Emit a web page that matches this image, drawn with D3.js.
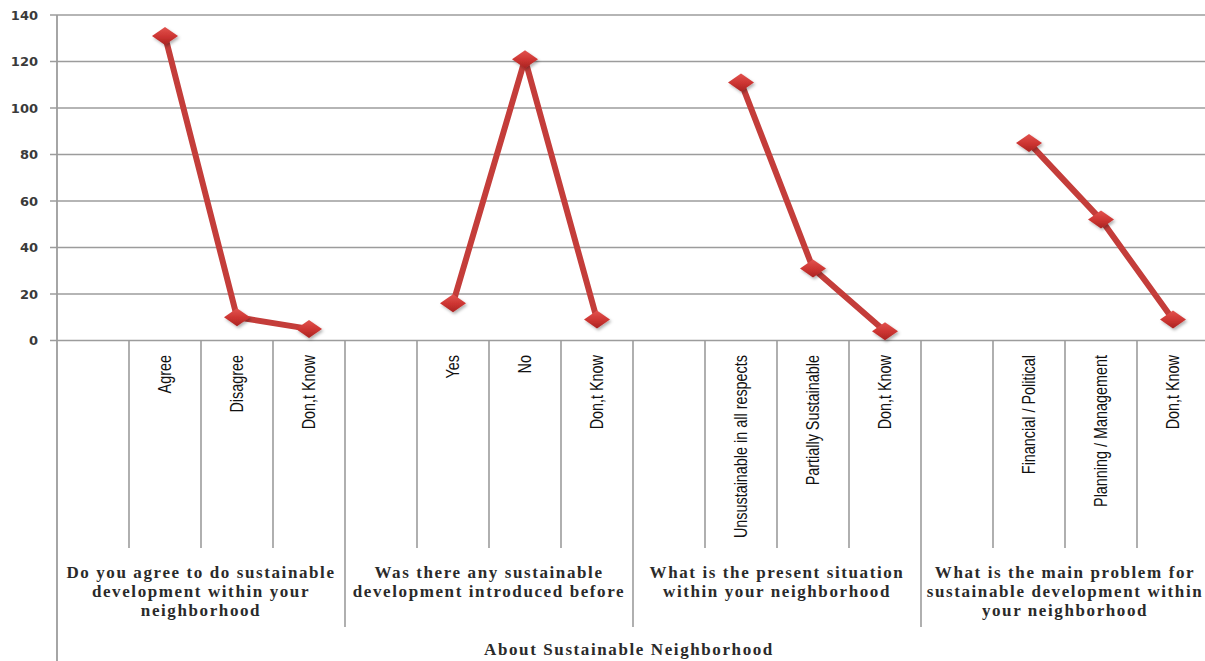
<!DOCTYPE html>
<html>
<head>
<meta charset="utf-8">
<script src="https://cdn.jsdelivr.net/npm/d3@7"></script>
<style>
  html, body { margin: 0; padding: 0; background: #fff; }
  svg { display: block; }
</style>
</head>
<body>
<svg id="chart" width="1205" height="661"></svg>
<script>
// Survey answers, one slot per answer; an empty slot opens each question group
const categories = ["", "Agree", "Disagree", "Don,t Know",
                    "", "Yes", "No", "Don,t Know",
                    "", "Unsustainable in all respects", "Partially Sustainable", "Don,t Know",
                    "", "Financial / Political", "Planning / Management", "Don,t Know"];
const values = [null, 131, 10, 5,
                null, 16, 121, 9,
                null, 111, 31, 4,
                null, 85, 52, 9];
const groupLabels = [
  ["Do you agree to do sustainable", "development within your", "neighborhood"],
  ["Was there any sustainable", "development introduced before"],
  ["What is the present situation", "within your neighborhood"],
  ["What is the main problem for", "sustainable development within", "your neighborhood"]
];
const yTicks = [0, 20, 40, 60, 80, 100, 120, 140];
const axisTitle = "About Sustainable Neighborhood";

(function draw() {
  const svg = d3.select("#chart");
  const plotLeft = 57, plotRight = 1209, plotTop = 15, plotBottom = 340.5;
  const slotsPerGroup = 4;

  const x = d3.scaleBand().domain(d3.range(categories.length)).range([plotLeft, plotRight]).padding(0);
  const y = d3.scaleLinear().domain([0, 140]).range([plotBottom, plotTop]);

  // gradient + shadow for the diamond markers
  const defs = svg.append("defs");
  const grad = defs.append("linearGradient").attr("id", "mk").attr("x1", 0).attr("y1", 0).attr("x2", 0).attr("y2", 1);
  grad.append("stop").attr("offset", "0%").attr("stop-color", "#e2534f");
  grad.append("stop").attr("offset", "55%").attr("stop-color", "#cc3431");
  grad.append("stop").attr("offset", "100%").attr("stop-color", "#a92422");
  const sh = defs.append("filter").attr("id", "sh").attr("x", "-50%").attr("y", "-50%").attr("width", "200%").attr("height", "200%");
  sh.append("feDropShadow").attr("dx", 1.5).attr("dy", 2).attr("stdDeviation", 1.5).attr("flood-color", "#000").attr("flood-opacity", 0.3);

  // horizontal gridlines
  svg.append("g").selectAll("line").data(yTicks).join("line")
    .attr("x1", plotLeft - 7).attr("x2", 1205)
    .attr("y1", d => y(d)).attr("y2", d => y(d))
    .attr("stroke", "#9c9c9c").attr("stroke-width", 1.6);

  // y axis through d3.axisLeft
  const yAxis = svg.append("g").attr("transform", `translate(${plotLeft},0)`)
    .call(d3.axisLeft(y).tickValues(yTicks).tickSize(0).tickPadding(19));
  yAxis.select(".domain").remove();
  yAxis.selectAll("text")
    .attr("font-family", "DejaVu Sans, Verdana, sans-serif")
    .attr("font-size", 13).attr("fill", "#3a3a3a").attr("font-weight", 600);

  // category dividers below the baseline
  const bounds = d3.range(categories.length + 1).map(i => i === categories.length ? plotRight : x(i));
  svg.append("g").selectAll("line").data(bounds.slice(1)).join("line")
    .attr("x1", d => d).attr("x2", d => d)
    .attr("y1", plotBottom)
    .attr("y2", (d, i) => ((i + 1) % slotsPerGroup === 0 ? 627 : 548))
    .attr("stroke", "#9c9c9c").attr("stroke-width", 1.6);

  // vertical axis line, running to the bottom edge
  svg.append("line").attr("x1", plotLeft).attr("x2", plotLeft).attr("y1", plotTop).attr("y2", 661)
    .attr("stroke", "#9c9c9c").attr("stroke-width", 1.8);

  // rotated answer labels, set in a condensed face
  svg.append("g").selectAll("text").data(categories).join("text")
    .attr("transform", (d, i) => `translate(${x(i) + x.bandwidth() / 2 + 6},355) rotate(-90) scale(0.8,1)`)
    .attr("text-anchor", "end")
    .attr("font-family", "Liberation Sans Narrow, Arial Narrow, Liberation Sans, sans-serif")
    .attr("font-size", 18).attr("fill", "#111")
    .text(d => d);

  // question labels under each group
  groupLabels.forEach((lines, g) => {
    const cx = (bounds[g * slotsPerGroup] + bounds[(g + 1) * slotsPerGroup]) / 2;
    const t = svg.append("text")
      .attr("x", cx).attr("y", 578)
      .attr("text-anchor", "middle")
      .attr("font-family", "Liberation Serif, Times New Roman, serif")
      .attr("font-size", 17).attr("font-weight", 700).attr("fill", "#2a2a2a")
      .attr("letter-spacing", 1.6);
    lines.forEach((ln, k) => t.append("tspan").attr("x", cx).attr("dy", k === 0 ? 0 : 19).text(ln));
  });

  // axis title
  svg.append("text").attr("x", 629).attr("y", 655).attr("text-anchor", "middle")
    .attr("font-family", "Liberation Serif, Times New Roman, serif")
    .attr("font-size", 17).attr("font-weight", 700).attr("fill", "#2a2a2a")
    .attr("letter-spacing", 1.6)
    .text(axisTitle);

  // series line, broken at the empty slots
  const line = d3.line()
    .defined(d => d != null)
    .x((d, i) => x(i) + x.bandwidth() / 2)
    .y(d => y(d));
  svg.append("path").datum(values)
    .attr("d", line)
    .attr("fill", "none").attr("stroke", "#c43d3a").attr("stroke-width", 6)
    .attr("stroke-linejoin", "round");

  // diamond markers
  const pts = values.map((v, i) => ({ v, i })).filter(d => d.v != null);
  svg.append("g").selectAll("path").data(pts).join("path")
    .attr("transform", d => `translate(${x(d.i) + x.bandwidth() / 2},${y(d.v)})`)
    .attr("d", "M-13,0 L0,-9 L13,0 L0,9 Z")
    .attr("fill", "url(#mk)").attr("filter", "url(#sh)");
})();
</script>
</body>
</html>
